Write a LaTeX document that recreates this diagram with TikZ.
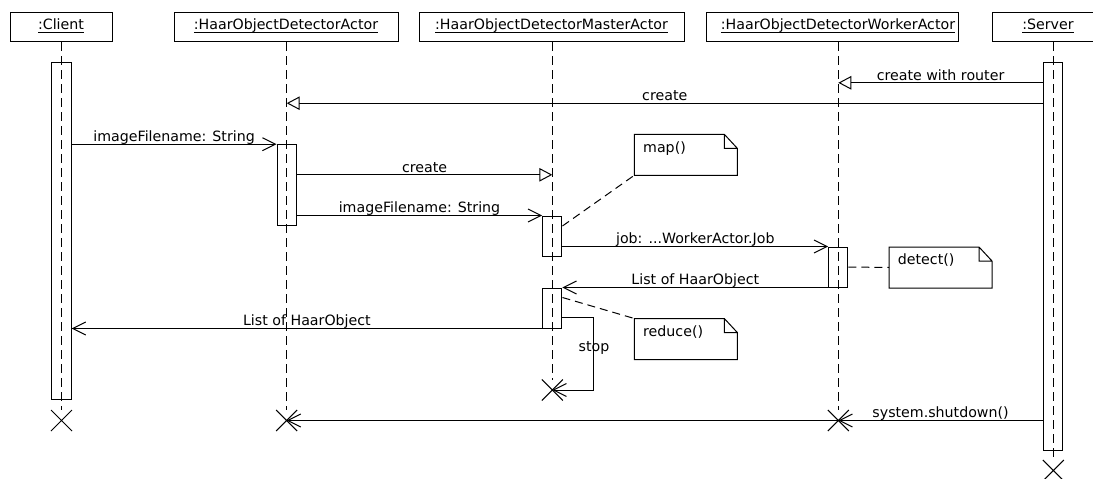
\documentclass[tikz,border=0pt]{standalone}
\usepackage{fontspec}
\setmainfont{DejaVu Sans}
\usetikzlibrary{arrows.meta,shapes.misc}
\newcommand{\headline}[1]{\sbox0{#1}\rlap{\rule[-2.8pt]{\wd0}{0.9pt}}\usebox0}
\begin{document}
\begin{tikzpicture}[x=1pt,y=-1pt,line width=1pt,
        font=\fontsize{14.2pt}{17pt}\selectfont,
        head/.style={draw, minimum height=29.7pt, inner sep=0pt, text height=10.5pt, text depth=4.2pt},
        bar/.style={draw, minimum width=19.3pt, inner sep=0pt},
        endmark/.style={draw, cross out, minimum size=20pt, inner sep=0pt},
        note/.style={anchor=north west, inner xsep=8.4pt, inner ysep=0pt, text width=85.2pt, align=left, text height=17.4pt, text depth=22.6pt},
        lifeline/.style={dash pattern=on 9pt off 5pt},
        notelink/.style={dash pattern=on 8pt off 5pt},
        msg/.style={-{Straight Barb[length=13pt,width=13pt]}},
        newmsg/.style={-{Triangle[open,length=13pt,width=13.5pt]}},
        lbl/.style={anchor=base, yshift=2.8pt}]
        \useasboundingbox (0,0) rectangle (1093,479);

        \node[head, minimum width=102pt] (client) at (61,26.85) {\headline{:Client}};
        \node[head, minimum width=224pt] (actor) at (286,26.85) {\headline{:HaarObjectDetectorActor}};
        \node[head, minimum width=265pt] (master) at (551.5,26.85) {\headline{:HaarObjectDetectorMasterActor}};
        \node[head, minimum width=252pt] (worker) at (832,26.85) {\hspace*{12pt}\headline{:HaarObjectDetectorWorkerActor}};
        \node[head, minimum width=112pt] (server) at (1048,26.85) {\headline{:Server}};

        \node[endmark] (clientX) at (61.5,420.5) {};
        \node[endmark] (actorX) at (286.7,420.5) {};
        \node[endmark] (masterX) at (552.3,390) {};
        \node[endmark] (workerX) at (838.3,420.5) {};
        \node[endmark] (serverX) at (1053.3,470.5) {};

        \foreach \h/\e in {client/clientX, actor/actorX, master/masterX, worker/workerX, server/serverX}
            \draw[lifeline] (\h.south -| \e) -- (\e.north);

        \node[bar, minimum height=336.6pt] (clientbar) at (61.5,231) {};
        \node[bar, minimum height=81pt] (actorbar) at (286.7,185.2) {};
        \node[bar, minimum height=40.3pt] (masterbar1) at (552.3,236.15) {};
        \node[bar, minimum height=40pt] (masterbar2) at (552.3,308) {};
        \node[bar, minimum height=40pt] (workerbar) at (838.3,267) {};
        \node[bar, minimum width=19pt, minimum height=387.6pt] (serverbar) at (1052.8,256.5) {};

        \node[note] (mapnote) at (634.3,134.3) {map()};
        \node[note] (detectnote) at (889,247) {detect()};
        \node[note] (reducenote) at (634.3,318.5) {reduce()};
        \foreach \n in {mapnote, detectnote, reducenote}
            \draw (\n.south west) -- (\n.north west) -- ([xshift=-13pt]\n.north east)
                -- ([yshift=-14pt]\n.north east) -- (\n.south east) -- cycle
                ([xshift=-13pt]\n.north east) |- ([yshift=-14pt]\n.north east);

        \draw[notelink] ([yshift=-10.5pt]masterbar1.north east) -- (mapnote.south west);
        \draw[notelink] (workerbar.east) -- (detectnote.west);
        \draw[notelink] ([yshift=-10pt]masterbar2.north east) -- (reducenote.north west);

        \draw[newmsg] ([yshift=-20.6pt]serverbar.north west) coordinate (s1) -- node[lbl] {create with router} (s1 -| workerX);
        \draw[newmsg] ([yshift=-41pt]serverbar.north west) coordinate (s2) -- node[lbl] {create} (s2 -| actorX);
        \draw[msg] (clientbar.east |- actorbar.north) -- node[lbl] {imageFilename: String} (actorbar.north west);
        \draw[newmsg] ([yshift=-30.6pt]actorbar.north east) coordinate (a1) -- node[lbl] {create} (a1 -| masterX);
        \draw[msg] (actorbar.east |- masterbar1.north) -- node[lbl] {imageFilename: String} (masterbar1.north west);
        \draw[msg] (masterbar1.east |- workerbar.north) -- node[lbl] {job: ...WorkerActor.Job} (workerbar.north west);
        \draw[msg] (workerbar.west |- masterbar2.north) -- node[lbl] {List of HaarObject} (masterbar2.north east);
        \draw[msg] (masterbar2.south west) -- node[lbl] {List of HaarObject} (clientbar.east |- masterbar2.south);
        \draw[msg] ([yshift=-30.3pt]masterbar2.north east) -- ++(31.5,0) |- node[pos=0.25, lbl] {stop} (masterX.center);
        \draw[msg] (serverbar.west |- workerX) -- node[lbl] {system.shutdown()} (workerX.center);
        \draw[msg] (serverbar.west |- actorX) -- (actorX.center);
    \end{tikzpicture}
\end{document}
